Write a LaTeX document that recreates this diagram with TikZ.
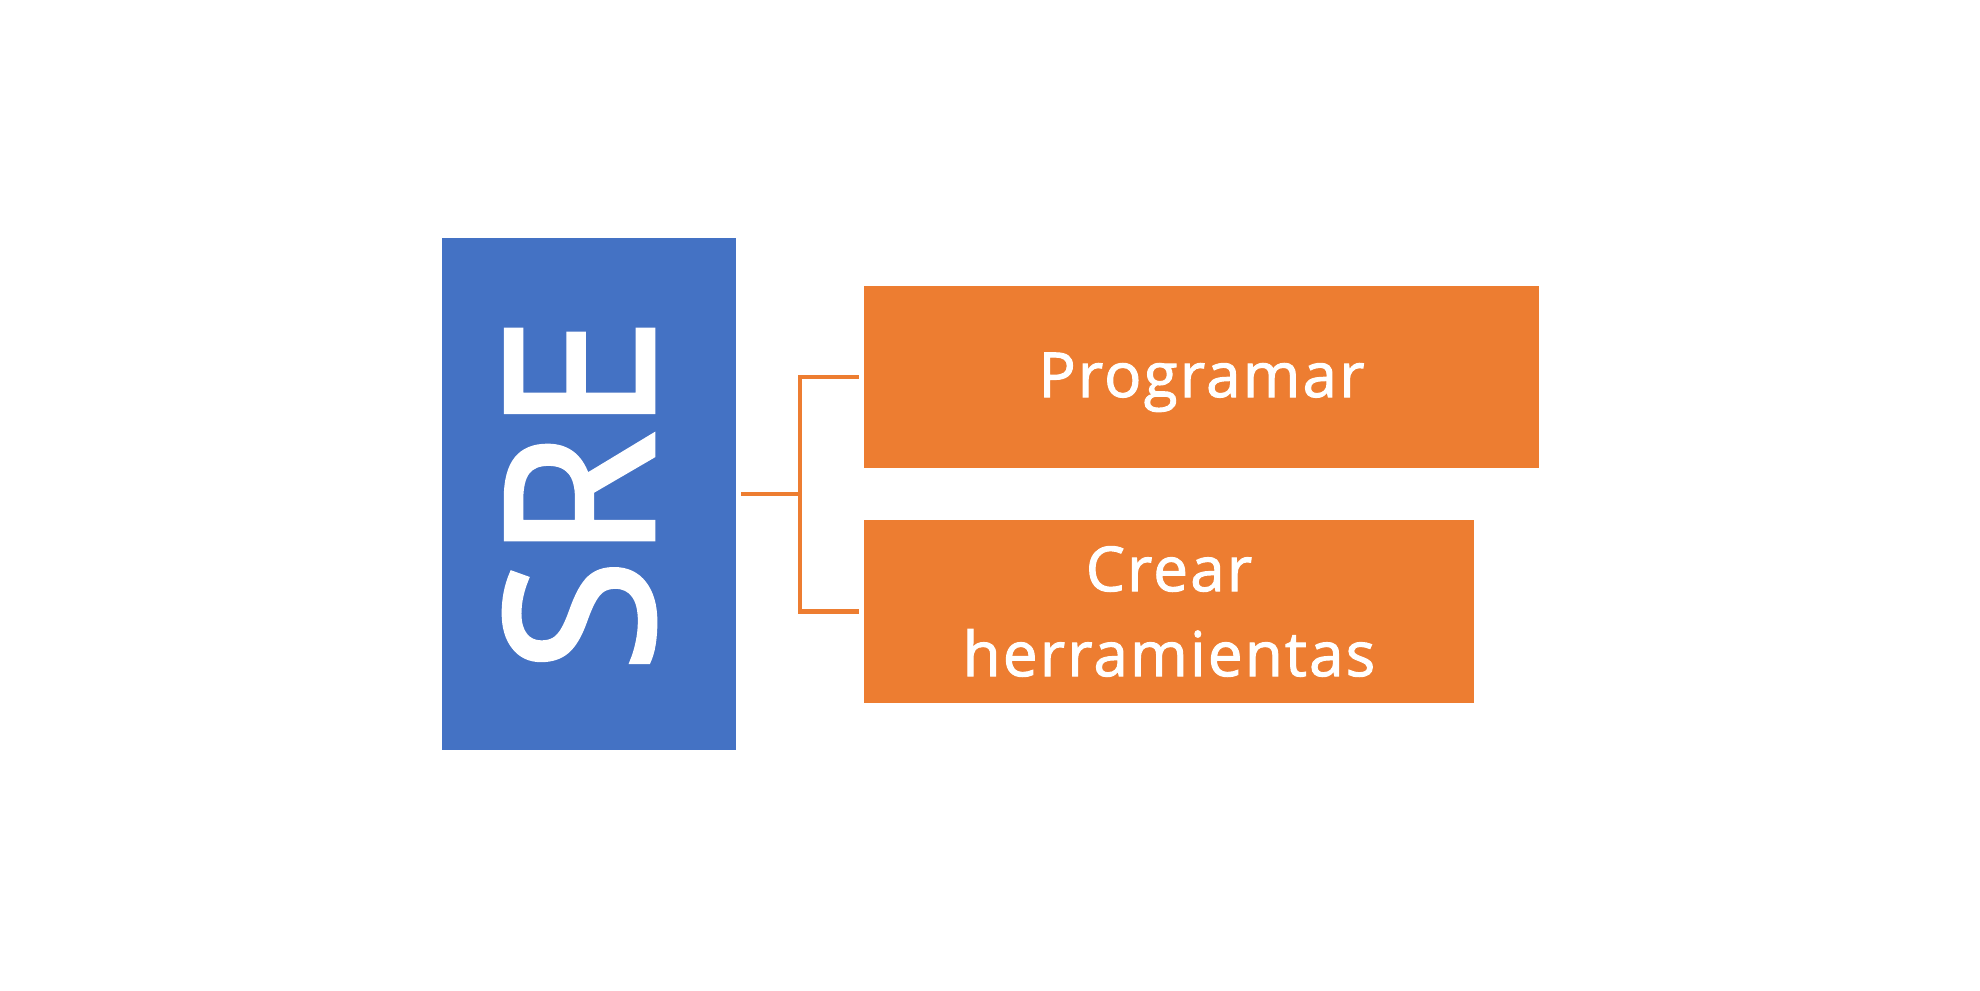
\documentclass[tikz,border=0pt]{standalone}
\usepackage{fontspec}
\setmainfont{Open Sans}
\newfontfamily\boxfont{Open Sans}[BoldFont={Open Sans},BoldFeatures={FakeBold=1.6},LetterSpace=3.5]
\newfontfamily\srefont{Open Sans}[BoldFont={Open Sans},BoldFeatures={FakeBold=2.2}]
\definecolor{sreblue}{HTML}{4472C4}
\definecolor{sreorange}{HTML}{ED7D31}
\begin{document}
\begin{tikzpicture}[x=0.5pt,y=-0.5pt,
  bluebox/.style={fill=sreblue,draw=none,inner sep=0pt,minimum width=147pt,minimum height=256pt},
  orangebox/.style={fill=sreorange,draw=none,inner sep=0pt,text=white,align=center,font=\boxfont\bfseries\fontsize{31}{42.5}\selectfont},
  conn/.style={draw=sreorange,line width=2.3pt}]
\useasboundingbox[fill=white] (0,0) rectangle (1980,990);
\node[bluebox] (sre) at (589,494) {};
\node[rotate=90,text=white,inner sep=0pt,font=\srefont\bfseries\fontsize{103}{103}\selectfont] (sretext) at (579.5,495) {SRE};
\node[orangebox,minimum width=337.5pt,minimum height=91pt,text height=22pt,text depth=2pt] (prog) at (1201.5,377) {Programar};
\node[orangebox,minimum width=305pt,minimum height=91.5pt] (crear) at (1169,611.5) {Crear\\herramientas};
\coordinate (j) at (800,494);
\draw[conn] ([xshift=2.5pt]sre.east) -- (j);
\draw[conn] ([xshift=-2.5pt]prog.west) -| (j) |- ([xshift=-2.5pt]crear.west);
\end{tikzpicture}
\end{document}
